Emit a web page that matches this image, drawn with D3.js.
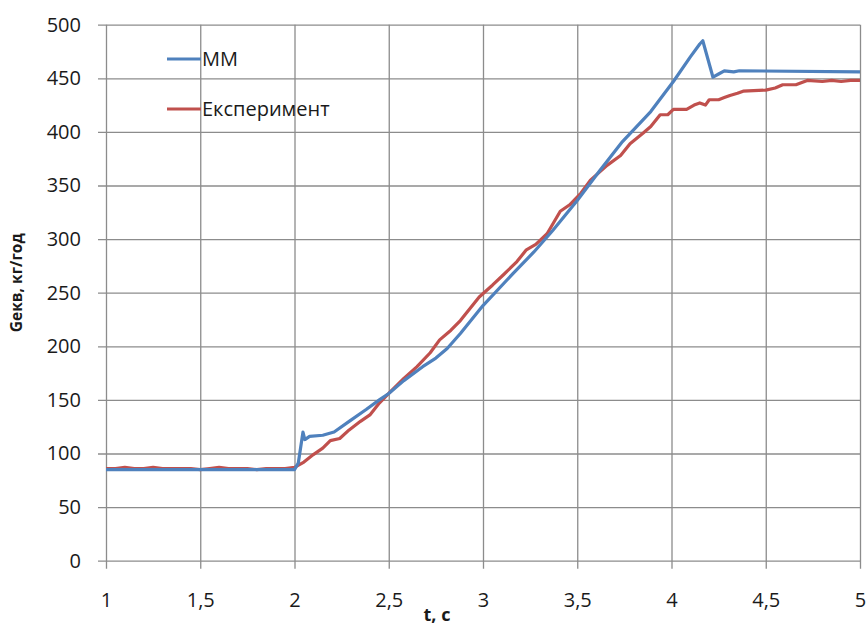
<!DOCTYPE html>
<html>
<head>
<meta charset="utf-8">
<script src="https://cdn.jsdelivr.net/npm/d3@7"></script>
<style>
  body { margin: 0; background: #fff; }
  text { font-family: "Open Sans", sans-serif; fill: #1a1a1a; }
</style>
</head>
<body>
<svg id="chart" width="867" height="627"></svg>
<script>
// MM model curve
var mmT = [1.0, 2.0, 2.02, 2.045, 2.055, 2.08, 2.15, 2.21, 2.29, 2.38, 2.45, 2.5, 2.58, 2.68, 2.75, 2.81, 2.88, 3.0, 3.16, 3.27, 3.37, 3.5, 3.62, 3.74, 3.89, 4.01, 4.1, 4.15, 4.166, 4.22, 4.25, 4.28, 4.33, 4.36, 5.0];
var mmG = [85, 85, 91, 120, 113, 116, 117, 120, 130, 141, 150, 156, 168, 181, 189, 198, 212, 238, 268, 288, 308, 336, 364, 391, 419, 447, 470, 482, 485, 451, 454, 457, 456, 457, 456];

// experiment curve
var expT = [1.0, 1.05, 1.1, 1.15, 1.2, 1.25, 1.3, 1.4, 1.45, 1.5, 1.55, 1.6, 1.65, 1.7, 1.75, 1.8, 1.85, 1.9, 1.95, 2.0, 2.05, 2.1, 2.15, 2.19, 2.24, 2.29, 2.35, 2.4, 2.45, 2.5, 2.58, 2.65, 2.72, 2.77, 2.83, 2.88, 2.98, 3.05, 3.11, 3.18, 3.23, 3.28, 3.34, 3.41, 3.46, 3.52, 3.57, 3.66, 3.73, 3.78, 3.85, 3.89, 3.94, 3.98, 4.01, 4.08, 4.12, 4.15, 4.18, 4.2, 4.25, 4.28, 4.31, 4.35, 4.38, 4.5, 4.55, 4.59, 4.66, 4.72, 4.8, 4.85, 4.9, 4.95, 5.0];
var expG = [86, 86, 87, 86, 86, 87, 86, 86, 86, 85, 86, 87, 86, 86, 86, 85, 86, 86, 86, 87, 92, 99, 105, 112, 114, 122, 130, 136, 147, 156, 170, 181, 194, 206, 215, 224, 246, 257, 267, 279, 290, 295, 305, 326, 332, 343, 355, 369, 378, 389, 399, 405, 416, 416, 421, 421, 425, 427, 425, 430, 430, 432, 434, 436, 438, 439, 441, 444, 444, 448, 447, 448, 447, 448, 448];

var xTicks = [1, 1.5, 2, 2.5, 3, 3.5, 4, 4.5, 5];
var yTicks = [0, 50, 100, 150, 200, 250, 300, 350, 400, 450, 500];
var seriesNames = ['ММ', 'Експеримент'];
var colors = ['#4f81bd', '#c0504d'];

(function() {
  var svg = d3.select('#chart'),
    left = 106,
    right = 860,
    plotTop = 24.7,
    plotBottom = 560.7,
    gridColor = '#8c8c8c';

  var x = d3.scaleLinear().domain([1, 5]).range([left, right]);
  var y = d3.scaleLinear().domain([0, 500]).range([plotBottom, plotTop]);

  var fmt = function(d) { return String(d).replace('.', ','); };

  // y grid + ticks
  var yAxis = svg.append('g')
    .attr('transform', 'translate(' + (left - 8) + ',0)')
    .call(d3.axisLeft(y).tickValues(yTicks).tickSize(-(right - left + 8)).tickPadding(17).tickFormat(fmt));
  yAxis.select('.domain').remove();
  yAxis.selectAll('line').attr('stroke', gridColor).attr('stroke-width', 1.3);
  yAxis.selectAll('text').style('font-size', '20px').style('font-family', '"Open Sans", sans-serif').attr('fill', '#1a1a1a');

  // x grid + ticks
  var xAxis = svg.append('g')
    .attr('transform', 'translate(0,' + (plotBottom + 8) + ')')
    .call(d3.axisBottom(x).tickValues(xTicks).tickSize(-(plotBottom - plotTop + 8)).tickPadding(24).tickFormat(fmt));
  xAxis.select('.domain').remove();
  xAxis.selectAll('line').attr('stroke', gridColor).attr('stroke-width', 1.3);
  xAxis.selectAll('text').style('font-size', '20px').style('font-family', '"Open Sans", sans-serif').attr('fill', '#1a1a1a');

  // lines
  var line = d3.line()
    .x(function(d) { return x(d[0]); })
    .y(function(d) { return y(d[1]); });

  var mmData = mmT.map(function(t, i) { return [t, mmG[i]]; });
  var expData = expT.map(function(t, i) { return [t, expG[i]]; });

  svg.append('path')
    .datum(expData)
    .attr('d', line)
    .attr('fill', 'none')
    .attr('stroke', colors[1])
    .attr('stroke-width', 3.2)
    .attr('stroke-linejoin', 'round');

  svg.append('path')
    .datum(mmData)
    .attr('d', line)
    .attr('fill', 'none')
    .attr('stroke', colors[0])
    .attr('stroke-width', 3.2)
    .attr('stroke-linejoin', 'round');

  // legend
  var legend = svg.append('g');
  seriesNames.forEach(function(name, i) {
    var ly = 59 + i * 50;
    legend.append('line')
      .attr('x1', 167).attr('x2', 201)
      .attr('y1', ly).attr('y2', ly)
      .attr('stroke', colors[i]).attr('stroke-width', 3.2);
    legend.append('text')
      .attr('x', 202).attr('y', ly)
      .attr('dy', '0.35em')
      .style('font-size', '20px')
      .text(name);
  });

  // axis titles
  svg.append('text')
    .attr('x', 437).attr('y', 621)
    .attr('text-anchor', 'middle')
    .style('font-size', '18px')
    .style('font-weight', 'bold')
    .text('t, c');

  svg.append('text')
    .attr('transform', 'translate(22,' + ((plotTop + plotBottom) / 2 - 10) + ') rotate(-90)')
    .attr('text-anchor', 'middle')
    .style('font-size', '15.5px')
    .style('font-weight', 'bold')
    .text('Gекв, кг/год');
})();
</script>
</body>
</html>
